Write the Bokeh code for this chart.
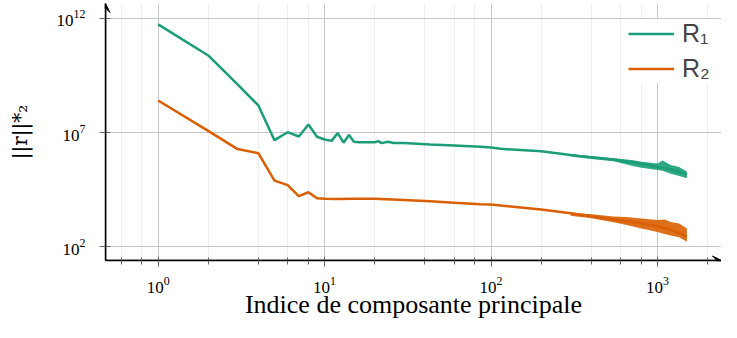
import numpy as np
from bokeh.plotting import figure
from bokeh.models import (Range1d, FixedTicker, LogTicker, Legend, LegendItem,
                          Arrow, VeeHead)
from bokeh.embed import file_html
from bokeh.resources import INLINE

# ---- data (given as log10 of ||r||*_2) ----
r1_x = [1, 2, 3, 4, 5, 6, 7, 8, 9, 10, 11, 12, 13, 14, 15, 16, 18, 20, 21, 22,
        24, 26, 30, 43, 60, 86, 100, 114, 200, 344, 543, 800, 1000, 1200, 1500]
r1_log = [11.74, 10.38, 9.11, 8.19, 6.67, 7.02, 6.83, 7.36, 6.82, 6.70, 6.64,
          6.98, 6.56, 6.90, 6.60, 6.58, 6.58, 6.58, 6.63, 6.54, 6.60, 6.55,
          6.55, 6.48, 6.44, 6.38, 6.35, 6.29, 6.19, 5.97, 5.82, 5.65, 5.50,
          5.39, 5.17]

r2_x = [1, 2, 3, 4, 5, 6, 7, 8, 9, 10, 12, 15, 20, 30, 43, 60, 86, 100, 114,
        200, 344, 543, 800, 1000, 1200, 1500]
r2_log = [8.41, 7.08, 6.28, 6.10, 4.90, 4.70, 4.22, 4.39, 4.13, 4.10, 4.09,
          4.11, 4.10, 4.05, 4.00, 3.93, 3.86, 3.85, 3.81, 3.63, 3.41, 3.20,
          3.03, 2.90, 2.75, 2.46]

# noise envelope of the dense tail (upper / lower edge, log10)
r1_env_x = [300, 400, 543, 700, 800, 1000, 1070, 1200, 1350, 1500]
r1_env_hi = [6.06, 5.98, 5.88, 5.80, 5.72, 5.65, 5.78, 5.58, 5.49, 5.30]
r1_env_lo = [5.95, 5.85, 5.75, 5.55, 5.46, 5.36, 5.33, 5.20, 5.10, 5.00]

r2_env_x = [300, 400, 543, 650, 800, 1000, 1100, 1200, 1350, 1500]
r2_env_hi = [3.48, 3.43, 3.33, 3.30, 3.24, 3.17, 3.20, 3.09, 3.02, 2.80]
r2_env_lo = [3.36, 3.25, 3.08, 2.96, 2.80, 2.65, 2.56, 2.49, 2.42, 2.22]

series_names = ["R\u2081", "R\u2082"]
colors = ["#1b9e77", "#d95f02"]
y_ticks = [1e2, 1e7, 1e12]
x_title = "Indice de composante principale"
y_title = "||r||*\u2082"

# ---- figure ----
x0, x1 = 10 ** -0.316, 10 ** 3.384
y0, y1 = 10 ** 1.40, 10 ** 12.657

p = figure(width=721, height=322, x_axis_type="log", y_axis_type="log",
           x_range=Range1d(x0, x1), y_range=Range1d(y0, y1),
           output_backend="svg", toolbar_location=None,
           min_border_left=105, min_border_right=0, min_border_top=3,
           min_border_bottom=62)
p.outline_line_color = None
p.background_fill_color = "white"

# grids
p.xgrid.grid_line_color = "#c8c8c8"
p.xgrid.minor_grid_line_color = "#eeeeee"
p.ygrid.grid_line_color = "#c8c8c8"

# axes
p.xaxis.ticker = LogTicker()
p.yaxis.ticker = FixedTicker(ticks=y_ticks, minor_ticks=[])
for ax in (p.xaxis[0], p.yaxis[0]):
    ax.axis_line_color = "black"
    ax.axis_line_width = 1.5
    ax.major_tick_line_color = "#666666"
    ax.minor_tick_line_color = "#666666"
    ax.major_label_text_font = "Liberation Serif"
    ax.major_label_text_font_size = "17px"
    ax.major_label_text_color = "black"
    ax.axis_label_text_font_style = "normal"
    ax.axis_label_text_color = "black"
p.xaxis.major_tick_in = 4
p.xaxis.major_tick_out = 6
p.xaxis.minor_tick_in = 3
p.xaxis.minor_tick_out = 4
p.xaxis.major_label_standoff = 10
p.xaxis.axis_label = x_title
p.xaxis.axis_label_text_font = "Liberation Serif"
p.xaxis.axis_label_text_font_size = "26px"
p.xaxis.axis_label_standoff = -6
p.yaxis.major_tick_in = 5
p.yaxis.major_tick_out = 6
p.yaxis.major_label_standoff = 14
p.yaxis.axis_label = y_title
p.yaxis.axis_label_text_font = "DejaVu Serif"
p.yaxis.axis_label_text_font_size = "20px"
p.yaxis.axis_label_standoff = 22

# noise bands
for ex, hi, lo, c in ((r1_env_x, r1_env_hi, r1_env_lo, colors[0]),
                      (r2_env_x, r2_env_hi, r2_env_lo, colors[1])):
    p.varea(x=ex, y1=np.power(10.0, hi), y2=np.power(10.0, lo),
            fill_color=c, fill_alpha=0.9)

# lines
l1 = p.line(r1_x, np.power(10.0, r1_log), line_color=colors[0], line_width=2.5)
l2 = p.line(r2_x, np.power(10.0, r2_log), line_color=colors[1], line_width=2.5)

# axis arrows
p.add_layout(Arrow(end=VeeHead(size=9, fill_color="black", line_color="black"),
                   x_start=x0, y_start=y0, x_end=x0, y_end=y1,
                   line_color="black", line_width=1.5))
p.add_layout(Arrow(end=VeeHead(size=9, fill_color="black", line_color="black"),
                   x_start=x0, y_start=y0, x_end=x1, y_end=y0,
                   line_color="black", line_width=1.5))

legend = Legend(items=[LegendItem(label=series_names[0], renderers=[l1]),
                       LegendItem(label=series_names[1], renderers=[l2])],
                location=(523, 177))
legend.label_text_font = "Liberation Sans"
legend.label_text_font_size = "25px"
legend.glyph_width = 46
legend.glyph_height = 27
legend.label_height = 27
legend.spacing = 6
legend.padding = 10
legend.label_standoff = 8
legend.border_line_color = None
legend.background_fill_color = "white"
legend.background_fill_alpha = 1.0
p.add_layout(legend)

open("out.html", "w").write(file_html(p, INLINE))
